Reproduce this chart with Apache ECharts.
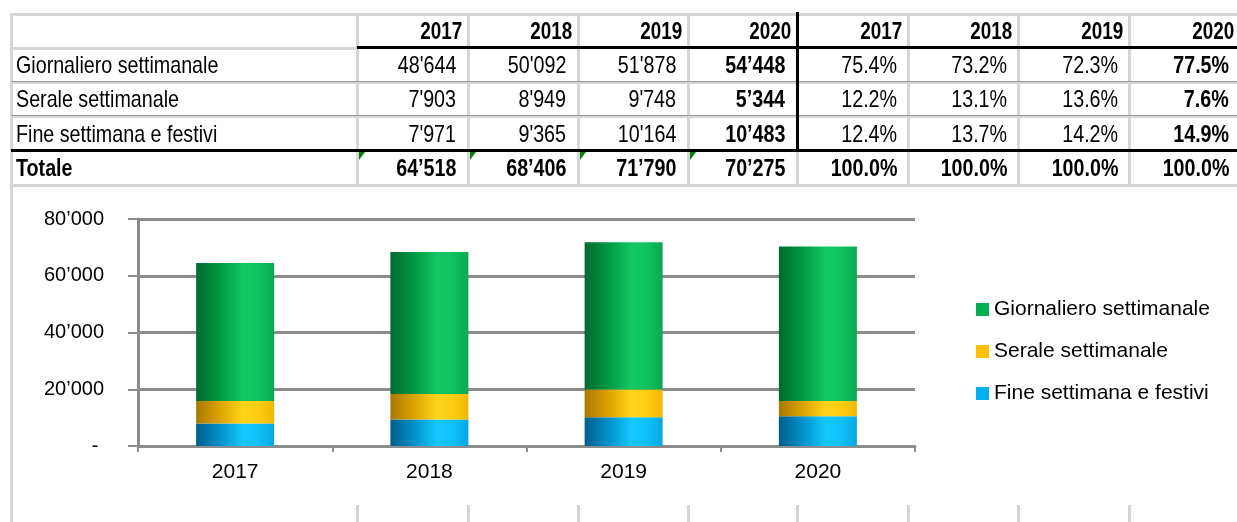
<!DOCTYPE html>
<html>
<head>
<meta charset="utf-8">
<script src="https://cdn.jsdelivr.net/npm/echarts@6/dist/echarts.min.js"></script>
<style>
html,body{margin:0;padding:0;background:#fff;width:1237px;height:522px;overflow:hidden;position:relative;font-family:"Liberation Sans",Arial,sans-serif;}
#chart{position:absolute;left:0;top:0;width:1237px;height:522px;}
#table{position:absolute;left:0;top:0;width:1237px;height:522px;pointer-events:none;}
.ln{position:absolute;}
.cell{position:absolute;white-space:nowrap;color:#000;}
.cell span{display:inline-block;transform:scaleX(0.82);}
.r{text-align:right;}
.r span{transform-origin:right center;}
.l{text-align:left;}
.l span{transform-origin:left center;}
.tri{position:absolute;width:0;height:0;border-top:8px solid #0a7d0a;border-right:6px solid transparent;}
</style>
</head>
<body>
<div id="chart"></div>
<div id="table"></div>
<script>
// ---- data ----
const years = ['2017', '2018', '2019', '2020'];
const rowLabels = ['Giornaliero settimanale', 'Serale settimanale', 'Fine settimana e festivi', 'Totale'];
const giornaliero = [48644, 50092, 51878, 54448];
const serale = [7903, 8949, 9748, 5344];
const fineSettimana = [7971, 9365, 10164, 10483];
const totale = [64518, 68406, 71790, 70275];
const pctGiornaliero = [75.4, 73.2, 72.3, 77.5];
const pctSerale = [12.2, 13.1, 13.6, 7.6];
const pctFine = [12.4, 13.7, 14.2, 14.9];
const pctTotale = [100.0, 100.0, 100.0, 100.0];
const seriesNames = ['Giornaliero settimanale', 'Serale settimanale', 'Fine settimana e festivi'];
const legendColors = ['#00B050', '#FFC000', '#00B0F0'];
const yMin = 0, yMax = 80000, yStep = 20000;

// ---- table ----
function thou(n, sep) { return String(n).replace(/\B(?=(\d{3})+(?!\d))/g, sep); }
const colX = [11, 357, 468, 578, 688, 797, 908, 1018, 1129, 1240];
const rowY = [14, 48, 82, 116, 151, 185];
const T = document.getElementById('table');
function line(x, y, w, h, c) {
  const d = document.createElement('div'); d.className = 'ln';
  d.style.cssText = `left:${x}px;top:${y}px;width:${w}px;height:${h}px;background:${c};`;
  T.appendChild(d);
}
function cell(ci, ri, text, opts) {
  const d = document.createElement('div');
  d.className = 'cell ' + (opts.align || 'r');
  const x0 = colX[ci], x1 = colX[ci + 1], y0 = rowY[ri], y1 = rowY[ri + 1];
  const h = y1 - y0;
  d.style.cssText = `left:${x0}px;top:${y0}px;width:${x1 - x0}px;height:${h}px;line-height:${h}px;font-size:${opts.size}px;font-weight:${opts.bold ? 'bold' : 'normal'};`;
  if ((opts.align || 'r') === 'r') d.style.width = (x1 - x0 - opts.pad) + 'px';
  else { d.style.left = (x0 + opts.pad) + 'px'; }
  const s = document.createElement('span'); s.textContent = text; d.appendChild(s);
  T.appendChild(d);
}
// light grid
const LG = '#d6d6d6';
colX.forEach(x => line(x - 1, rowY[0], 3, rowY[5] - rowY[0] + 2, LG));
line(colX[0], rowY[0] - 1, 1240, 3, LG);
line(colX[0], rowY[5] - 1, 1240, 3, LG);
line(colX[0], rowY[1] - 1, colX[1] - colX[0], 3, LG);
[rowY[2], rowY[3]].forEach(y => { line(colX[0], y - 1, 1240, 3, LG); line(colX[0], y - 1, 1240, 1, '#9a9a9a'); });
// spreadsheet gridlines below the table
line(colX[0] - 1, rowY[5], 3, 522 - rowY[5], LG);
colX.slice(1, 9).forEach(x => line(x - 1, 505, 3, 17, LG));
// black borders
line(colX[1], rowY[1] - 2, 1240 - colX[1], 3, '#000');
line(colX[0], rowY[4] - 2, 1240, 3, '#000');
line(colX[5] - 1, 12, 3, rowY[4] - 12, '#000');

// header
years.concat(years).forEach((y, i) => cell(i + 1, 0, y, {size: 23, bold: true, pad: 6}));
const absRows = [giornaliero, serale, fineSettimana, totale];
const pctRows = [pctGiornaliero, pctSerale, pctFine, pctTotale];
rowLabels.forEach((lab, r) => {
  const isTot = r === 3;
  cell(0, r + 1, lab, {size: 24, bold: isTot, pad: 5, align: 'l'});
  absRows[r].forEach((v, c) => {
    const b = isTot || c === 3;
    cell(c + 1, r + 1, thou(v, b ? '\u2019' : "'"), {size: 24, bold: b, pad: 12});
  });
  pctRows[r].forEach((v, c) => {
    const b = isTot || c === 3;
    cell(c + 5, r + 1, v.toFixed(1) + '%', {size: 24, bold: b, pad: 11});
  });
});
// green error indicators
[1, 2, 3, 4].forEach(ci => {
  const t = document.createElement('div'); t.className = 'tri';
  t.style.left = (colX[ci] + 2) + 'px'; t.style.top = (rowY[4] + 1) + 'px';
  T.appendChild(t);
});

// ---- chart ----
function grad(stops) {
  return {type: 'linear', x: 0, y: 0, x2: 1, y2: 0,
    colorStops: stops.map(s => ({offset: s[0], color: s[1]}))};
}
const greenG = grad([[0, '#006a30'], [0.3, '#009843'], [0.6, '#12c862'], [0.8, '#10c25e'], [1, '#0aa852']]);
const yellowG = grad([[0, '#a87800'], [0.3, '#dca200'], [0.6, '#ffd41c'], [0.8, '#ffcc10'], [1, '#f0b800']]);
const blueG = grad([[0, '#005e8c'], [0.3, '#0090c8'], [0.6, '#14c8ff'], [0.8, '#10c0fa'], [1, '#06a8e0']]);

const chart = echarts.init(document.getElementById('chart'), null, {renderer: 'canvas'});
const gray = '#8c8c8c';
const font = 'Liberation Sans';
chart.setOption({
  animation: false,
  backgroundColor: 'transparent',
  grid: {left: 138, right: 1237 - 915, top: 219, bottom: 522 - 446, containLabel: false},
  legend: {
    orient: 'vertical', left: 971, top: 294, itemWidth: 13, itemHeight: 13, itemGap: 21,
    icon: 'rect', selectedMode: false,
    textStyle: {fontSize: 21, color: '#000', fontFamily: font, lineHeight: 20},
    data: seriesNames.map((n, i) => ({name: n, itemStyle: {color: legendColors[i]}}))
  },
  xAxis: {
    type: 'category', data: years,
    axisLine: {lineStyle: {color: gray, width: 3}},
    axisTick: {show: true, length: 6, lineStyle: {color: gray, width: 2}},
    axisLabel: {color: '#000', fontSize: 21, fontFamily: font, margin: 16}
  },
  yAxis: {
    type: 'value', min: yMin, max: yMax, interval: yStep,
    axisLine: {show: true, lineStyle: {color: gray, width: 3}},
    axisTick: {show: true, length: 10, lineStyle: {color: gray, width: 2}},
    splitLine: {show: true, lineStyle: {color: gray, width: 3}},
    axisLabel: {color: '#000', fontSize: 20, fontFamily: font, margin: 34,
      formatter: v => v === 0 ? '- ' : thou(v, '\u2019')}
  },
  series: [
    {name: seriesNames[2], type: 'bar', stack: 'tot', barWidth: 78, data: fineSettimana, itemStyle: {color: blueG}},
    {name: seriesNames[1], type: 'bar', stack: 'tot', barWidth: 78, data: serale, itemStyle: {color: yellowG}},
    {name: seriesNames[0], type: 'bar', stack: 'tot', barWidth: 78, data: giornaliero, itemStyle: {color: greenG}}
  ]
});
</script>
</body>
</html>
